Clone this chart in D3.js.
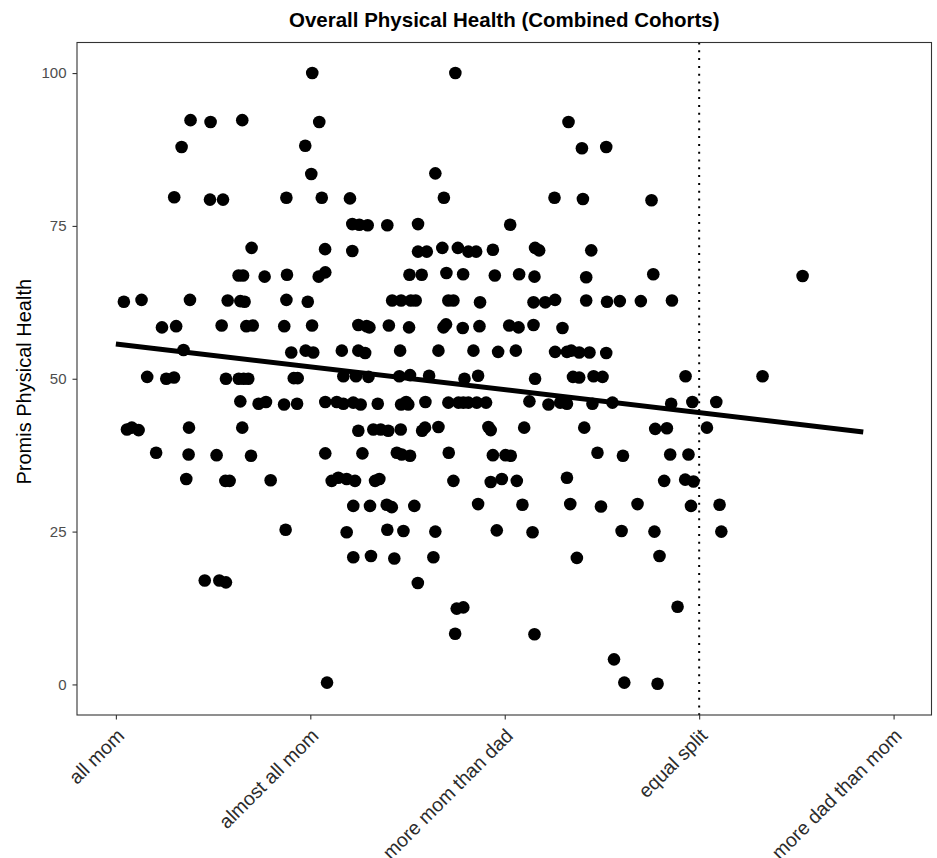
<!DOCTYPE html>
<html>
<head>
<meta charset="utf-8">
<script src="https://cdn.jsdelivr.net/npm/d3@7"></script>
<style>
  html, body { margin: 0; padding: 0; background: #fff; }
  svg { display: block; font-family: "Liberation Sans", Arial, Helvetica, sans-serif; }
</style>
</head>
<body>
<svg id="chart" width="937" height="858"></svg>
<script>
// Caregiving split categories along the x axis
const categories = ["all mom", "almost all mom", "more mom than dad", "equal split", "more dad than mom"];
const yTicks = [0, 25, 50, 75, 100];

// Jittered category position of each respondent (1 = "all mom" ... 5 = "more dad than mom")
const jitterX = [
  2.010, 1.384, 1.487, 1.650, 2.046, 1.338, 1.974, 2.005, 1.300, 1.484, 1.551, 1.877, 2.059, 1.698, 2.076,
  1.631, 1.654, 1.765, 1.880, 2.043, 2.077, 1.041, 1.132, 1.381, 1.575, 1.640, 1.662, 1.877, 1.987, 1.237,
  1.310, 1.544, 1.671, 1.704, 1.866, 2.009, 1.348, 1.902, 1.976, 2.015,
  1.161, 1.259, 1.299, 1.566, 1.632, 1.657, 1.681, 1.915, 1.935, 1.640, 1.734, 1.772, 1.865, 1.932, 2.077,
  1.057, 1.082, 1.117, 1.376, 1.650, 1.207, 1.374, 1.518, 1.695, 2.077, 1.362, 1.563, 1.585, 1.796, 1.873,
  1.457, 1.532, 1.566, 2.086,
  2.746, 3.328, 2.643, 2.204, 2.687, 3.256, 2.216, 2.252, 2.295, 2.396, 2.554, 3.028, 2.216, 2.554, 2.599,
  2.679, 2.759, 2.813, 2.853, 2.939, 3.156, 3.177, 2.510, 2.573, 2.700, 2.786, 2.949, 3.074, 3.153, 2.421,
  2.467, 2.517, 2.542, 2.710, 2.736, 2.873, 3.148, 3.208, 3.259, 2.247, 2.290, 2.304, 2.404, 2.508, 2.685,
  2.698, 2.784, 2.870, 3.023, 3.071, 3.148, 3.297, 2.162, 2.247, 2.282, 2.462, 2.659, 2.839, 2.966, 3.057,
  3.259, 3.320,
  3.397, 3.522, 3.402, 3.755, 3.445, 3.419, 3.764, 4.532, 3.419, 3.526, 3.592, 3.700, 3.860, 3.342, 3.383,
  3.436, 3.522,
  2.170, 2.235, 2.299, 2.458, 2.513, 2.611, 2.793, 2.863, 3.156, 2.136, 2.170, 2.221, 2.259, 2.347, 2.467,
  2.493, 2.504, 2.592, 2.710, 2.762, 2.787, 2.813, 2.856, 2.904, 3.127, 3.225, 3.285, 3.320, 2.247, 2.324,
  2.362, 2.401, 2.465, 2.575, 2.590, 2.659, 2.916, 2.928, 3.100, 2.268, 2.445, 2.470, 2.513, 2.712, 2.939,
  3.004, 3.031, 2.110, 2.144, 2.187, 2.230, 2.333, 2.355, 2.736, 2.928, 2.985, 3.062, 3.320, 2.221, 2.307,
  2.393, 2.419, 2.535, 2.863, 3.091, 3.337, 2.187, 2.396, 2.479, 2.643, 2.959, 3.143, 2.221, 2.312, 2.432,
  2.633, 2.553, 2.753, 2.787, 2.745, 3.153,
  3.351, 3.383, 3.457, 3.503, 3.930, 4.326, 3.451, 3.554, 3.856, 3.965, 4.088, 3.409, 3.774, 3.834, 4.040,
  3.477, 3.608, 3.851, 3.945, 3.820, 3.928, 3.971, 3.495, 3.683, 3.958, 4.105, 3.601, 3.770, 4.114, 3.371,
  3.796, 3.889, 3.562, 3.615, 3.786
];

// PROMIS physical health score of each respondent
const physicalHealth = [
  100, 92.3, 92.0, 92.3, 92.0, 87.9, 88.1, 83.5, 79.7, 79.3, 79.3, 79.6, 79.6, 71.4, 71.2,
  66.9, 66.9, 66.7, 67.0, 66.7, 67.4, 62.6, 62.9, 62.9, 62.8, 62.7, 62.6, 62.9, 62.6, 58.4,
  58.6, 58.7, 58.6, 58.7, 58.6, 58.7, 54.7, 54.3, 54.6, 54.3,
  50.3, 50.0, 50.2, 50.0, 50.0, 50.0, 50.0, 50.1, 50.1, 46.3, 45.9, 46.2, 45.8, 45.9, 46.2,
  41.7, 42.0, 41.6, 42.0, 42.0, 37.9, 37.6, 37.5, 37.4, 37.8, 33.6, 33.3, 33.3, 33.4, 25.3,
  17.0, 17.0, 16.7, 0.3,
  100, 92.0, 83.6, 79.5, 79.6, 79.6, 75.3, 75.2, 75.1, 75.1, 75.3, 75.2, 70.9, 70.8, 70.8,
  71.4, 71.4, 70.8, 70.8, 71.1, 71.4, 71.0, 67.0, 67.0, 67.3, 67.1, 66.9, 67.1, 66.7, 62.8,
  62.8, 62.8, 62.8, 62.8, 62.8, 62.5, 62.5, 62.5, 62.9, 58.8, 58.6, 58.4, 58.7, 58.4, 58.4,
  58.9, 58.3, 58.6, 58.7, 58.4, 58.8, 58.3, 54.6, 54.6, 54.2, 54.6, 54.6, 54.6, 54.4, 54.6,
  54.4, 54.4,
  87.7, 87.9, 79.4, 79.2, 71.0, 66.6, 67.1, 66.8, 62.8, 62.6, 62.7, 62.7, 62.8, 54.6, 54.3,
  54.3, 54.2,
  50.4, 50.4, 50.3, 50.4, 50.6, 50.5, 50.0, 50.5, 50.0, 46.2, 45.9, 46.1, 45.8, 45.9, 45.8,
  46.2, 45.8, 46.2, 46.1, 46.1, 46.1, 46.1, 46.1, 46.1, 46.3, 45.8, 46.1, 45.9, 41.5, 41.7,
  41.7, 41.5, 41.7, 41.5, 42.0, 42.1, 42.1, 41.6, 42.0, 37.8, 37.9, 37.6, 37.4, 37.9, 37.5,
  37.5, 37.4, 33.3, 33.8, 33.6, 33.3, 33.3, 33.6, 33.3, 33.1, 33.6, 33.3, 33.8, 29.2, 29.2,
  29.4, 29.0, 29.2, 29.5, 29.4, 29.5, 24.9, 25.3, 25.1, 25.0, 25.2, 24.9, 20.8, 21.0, 20.6,
  20.8, 16.6, 12.4, 12.6, 8.3, 8.2,
  50.3, 50.2, 50.4, 50.3, 50.4, 50.4, 45.9, 46.1, 45.9, 46.2, 46.2, 42.0, 41.8, 41.9, 42.0,
  37.9, 37.4, 37.6, 37.6, 33.3, 33.5, 33.2, 29.1, 29.5, 29.2, 29.4, 25.1, 25.0, 25.0, 20.7,
  21.0, 12.7, 4.1, 0.3, 0.1
];

// Linear fit endpoints (category position, predicted score)
const trendX = [1, 4.844];
const trendY = [55.7, 41.3];

// Reference category marked with a dotted line
const referenceCategory = "equal split";

const svg = d3.select("#chart");
const W = 937, H = 858;
const panel = { left: 77, top: 42.5, right: 931.5, bottom: 715 };

svg.append("rect").attr("width", W).attr("height", H).attr("fill", "#fff");

const x = d3.scaleLinear().domain([0.8, 5.195]).range([panel.left, panel.right]);
const y = d3.scaleLinear().domain([-5, 105]).range([panel.bottom, panel.top]);

// Points
const pts = jitterX.map((v, i) => ({ x: v, y: physicalHealth[i] }));
svg.append("g")
  .selectAll("circle")
  .data(pts)
  .join("circle")
  .attr("cx", d => x(d.x))
  .attr("cy", d => y(d.y))
  .attr("r", 6.3)
  .attr("fill", "#000");

// Dotted reference line
const refX = categories.indexOf(referenceCategory) + 1;
svg.append("line")
  .attr("x1", x(refX)).attr("x2", x(refX))
  .attr("y1", panel.top).attr("y2", panel.bottom)
  .attr("stroke", "#000")
  .attr("stroke-width", 2)
  .attr("stroke-dasharray", "2,5.8");

// Fitted line
svg.append("path")
  .datum(trendX.map((v, i) => [v, trendY[i]]))
  .attr("d", d3.line().x(d => x(d[0])).y(d => y(d[1])))
  .attr("fill", "none")
  .attr("stroke", "#000")
  .attr("stroke-width", 5)
  .attr("stroke-linecap", "butt");

// Panel border
svg.append("rect")
  .attr("x", panel.left).attr("y", panel.top)
  .attr("width", panel.right - panel.left)
  .attr("height", panel.bottom - panel.top)
  .attr("fill", "none")
  .attr("stroke", "#333")
  .attr("stroke-width", 1.1);

// Y axis
const yAxis = d3.axisLeft(y).tickValues(yTicks).tickSize(4.5).tickPadding(6);
const gy = svg.append("g").attr("transform", `translate(${panel.left},0)`).call(yAxis);
gy.select(".domain").remove();
gy.selectAll(".tick line").attr("stroke", "#333").attr("stroke-width", 1.1);
gy.selectAll(".tick text")
  .attr("fill", "#4d4d4d")
  .style("font-size", "15px")
  .style("font-family", "'Liberation Sans', Arial, Helvetica, sans-serif");

// X axis
const xAxis = d3.axisBottom(x)
  .tickValues(categories.map((c, i) => i + 1))
  .tickFormat(v => categories[v - 1])
  .tickSize(4.5);
const gx = svg.append("g").attr("transform", `translate(0,${panel.bottom})`).call(xAxis);
gx.select(".domain").remove();
gx.selectAll(".tick line").attr("stroke", "#333").attr("stroke-width", 1.1);
gx.selectAll(".tick text")
  .attr("fill", "#2b2b2b")
  .attr("text-anchor", "end")
  .attr("x", 0).attr("y", 0).attr("dy", 0)
  .attr("transform", "translate(9,22) rotate(-45)")
  .style("font-size", "19.5px")
  .style("font-family", "'Liberation Sans', Arial, Helvetica, sans-serif");

// Y axis title
svg.append("text")
  .attr("transform", `translate(31,${(panel.top + panel.bottom) / 2 + 3}) rotate(-90)`)
  .attr("text-anchor", "middle")
  .attr("fill", "#000")
  .style("font-size", "20px")
  .text("Promis Physical Health");

// Title
svg.append("text")
  .attr("x", (panel.left + panel.right) / 2)
  .attr("y", 26.5)
  .attr("text-anchor", "middle")
  .attr("fill", "#000")
  .style("font-size", "20.5px")
  .style("font-weight", "bold")
  .text("Overall Physical Health (Combined Cohorts)");
</script>
</body>
</html>
